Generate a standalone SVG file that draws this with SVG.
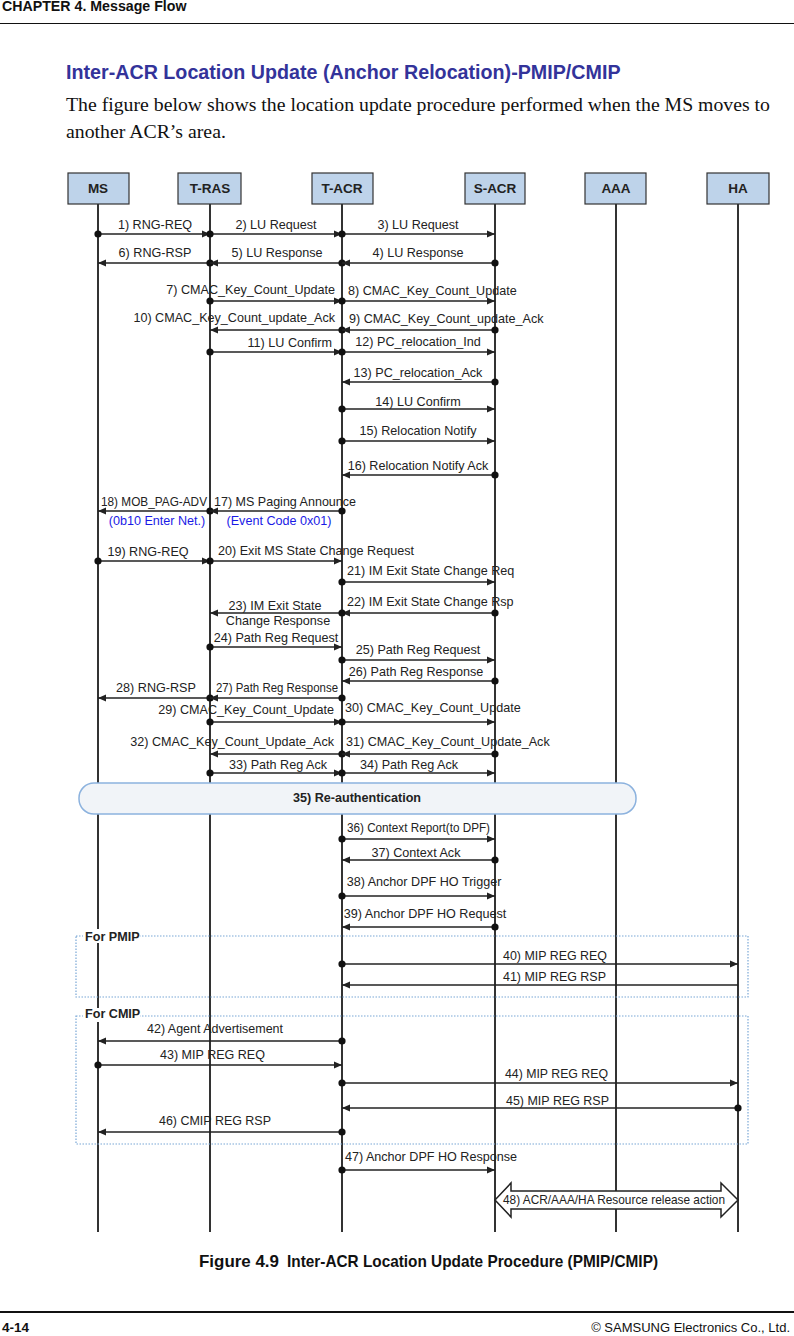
<svg xmlns="http://www.w3.org/2000/svg" width="794" height="1336" viewBox="0 0 794 1336">
<style>
.t{font-family:"Liberation Sans",Arial,sans-serif;font-size:12.6px;fill:#222}
.m{text-anchor:middle}
.e{text-anchor:end}
.b{font-weight:bold}
.blue{fill:#1a1ae6}
.ll{stroke:#333;stroke-width:2}
.hb{fill:#bed3ea;stroke:#333;stroke-width:1.2}
.a{stroke:#222;stroke-width:1.3;fill:none;marker-start:url(#dot);marker-end:url(#arr)}
.n{stroke:#222;stroke-width:1.3;fill:none;marker-end:url(#arr)}
.box{fill:none;stroke:#7aa7d6;stroke-width:1.2;stroke-dasharray:1.5 1.5}
</style>
<defs>
<marker id="arr" markerUnits="userSpaceOnUse" markerWidth="9" markerHeight="8" refX="8" refY="4" orient="auto"><path d="M0,0.5 L8,4 L0,7.5 z" fill="#222"/></marker>
<marker id="dot" markerUnits="userSpaceOnUse" markerWidth="9" markerHeight="9" refX="4.5" refY="4.5"><circle cx="4.5" cy="4.5" r="3.6" fill="#111"/></marker>
</defs>
<rect width="794" height="1336" fill="#fff"/>
<g id="page">
<text x="2" y="11" class="t b" style="font-size:14.2px;fill:#111">CHAPTER 4. Message Flow</text>
<line x1="0" y1="23.5" x2="794" y2="23.5" stroke="#111" stroke-width="1.2"/>
<text x="66" y="79" style="font-family:'Liberation Sans',Arial,sans-serif;font-size:19.7px;font-weight:bold;fill:#33339a">Inter-ACR Location Update (Anchor Relocation)-PMIP/CMIP</text>
<text x="66" y="111" textLength="704" lengthAdjust="spacingAndGlyphs" style="font-family:'Liberation Serif','Times New Roman',serif;font-size:19.8px;fill:#111">The figure below shows the location update procedure performed when the MS moves to</text>
<text x="66" y="138" style="font-family:'Liberation Serif','Times New Roman',serif;font-size:19.8px;fill:#111">another ACR’s area.</text>
<text x="199" y="1267" class="t b" textLength="80" lengthAdjust="spacingAndGlyphs" style="font-size:17px;fill:#111">Figure 4.9</text>
<text x="287" y="1267" class="t b" textLength="371" lengthAdjust="spacingAndGlyphs" style="font-size:17px;fill:#111">Inter-ACR Location Update Procedure (PMIP/CMIP)</text>
<line x1="0" y1="1312" x2="794" y2="1312" stroke="#111" stroke-width="2"/>
<text x="2" y="1332" class="t b" style="font-size:13.5px;fill:#111">4-14</text>
<text x="790" y="1332" class="t e" style="font-size:13px;fill:#111">© SAMSUNG Electronics Co., Ltd.</text>
</g>
<g id="lifelines">
<line class="ll" x1="98" y1="204" x2="98" y2="1232"/>
<line class="ll" x1="210" y1="204" x2="210" y2="1232"/>
<line class="ll" x1="342" y1="204" x2="342" y2="1232"/>
<line class="ll" x1="495" y1="204" x2="495" y2="1232"/>
<line class="ll" x1="616" y1="204" x2="616" y2="1232"/>
<line class="ll" x1="738" y1="204" x2="738" y2="1232"/>
</g>
<g id="node-MS"><rect class="hb" x="68" y="173" width="61" height="31"/><text x="98" y="193" class="t m b" style="font-size:13.5px">MS</text></g>
<g id="node-TRAS"><rect class="hb" x="178" y="173" width="63" height="31"/><text x="210" y="193" class="t m b" style="font-size:13.5px">T-RAS</text></g>
<g id="node-TACR"><rect class="hb" x="312" y="173" width="61" height="31"/><text x="342" y="193" class="t m b" style="font-size:13.5px">T-ACR</text></g>
<g id="node-SACR"><rect class="hb" x="465" y="173" width="60" height="31"/><text x="495" y="193" class="t m b" style="font-size:13.5px">S-ACR</text></g>
<g id="node-AAA"><rect class="hb" x="585" y="173" width="61" height="31"/><text x="616" y="193" class="t m b" style="font-size:13.5px">AAA</text></g>
<g id="node-HA"><rect class="hb" x="707" y="173" width="62" height="31"/><text x="738" y="193" class="t m b" style="font-size:13.5px">HA</text></g>
<g id="frames">
<rect class="box" x="76" y="936" width="672" height="61"/>
<rect x="83" y="929" width="57" height="14" fill="#fff"/>
<text x="85" y="941" class="t b">For PMIP</text>
<rect class="box" x="76" y="1016" width="672" height="128"/>
<rect x="83" y="1008" width="57" height="14" fill="#fff"/>
<text x="85" y="1018" class="t b">For CMIP</text>
</g>
<g id="connectors">
<line class="a" x1="98" y1="234" x2="210" y2="234"/>
<line class="a" x1="210" y1="234" x2="342" y2="234"/>
<line class="a" x1="342" y1="234" x2="495" y2="234"/>
<line class="a" x1="210" y1="263" x2="98" y2="263"/>
<line class="a" x1="342" y1="263" x2="210" y2="263"/>
<line class="a" x1="495" y1="263" x2="342" y2="263"/>
<line class="a" x1="210" y1="301" x2="342" y2="301"/>
<line class="a" x1="342" y1="301" x2="495" y2="301"/>
<line class="a" x1="342" y1="330" x2="210" y2="330"/>
<line class="a" x1="495" y1="330" x2="342" y2="330"/>
<line class="a" x1="210" y1="352" x2="342" y2="352"/>
<line class="a" x1="342" y1="352" x2="495" y2="352"/>
<line class="a" x1="495" y1="382" x2="342" y2="382"/>
<line class="a" x1="342" y1="409" x2="495" y2="409"/>
<line class="a" x1="342" y1="441" x2="495" y2="441"/>
<line class="a" x1="495" y1="475" x2="342" y2="475"/>
<line class="a" x1="210" y1="511" x2="98" y2="511"/>
<line class="a" x1="342" y1="511" x2="210" y2="511"/>
<line class="a" x1="98" y1="561" x2="210" y2="561"/>
<line class="a" x1="210" y1="561" x2="342" y2="561"/>
<line class="a" x1="342" y1="582" x2="495" y2="582"/>
<line class="a" x1="495" y1="613" x2="342" y2="613"/>
<line class="a" x1="342" y1="613" x2="210" y2="613"/>
<line class="a" x1="210" y1="647" x2="342" y2="647"/>
<line class="a" x1="342" y1="660" x2="495" y2="660"/>
<line class="a" x1="495" y1="681" x2="342" y2="681"/>
<line class="a" x1="210" y1="698" x2="98" y2="698"/>
<line class="a" x1="342" y1="698" x2="210" y2="698"/>
<line class="a" x1="210" y1="722" x2="342" y2="722"/>
<line class="a" x1="342" y1="722" x2="495" y2="722"/>
<line class="a" x1="342" y1="754" x2="210" y2="754"/>
<line class="a" x1="495" y1="754" x2="342" y2="754"/>
<line class="a" x1="210" y1="773" x2="342" y2="773"/>
<line class="a" x1="342" y1="773" x2="495" y2="773"/>
<line class="a" x1="342" y1="839" x2="495" y2="839"/>
<line class="a" x1="495" y1="860" x2="342" y2="860"/>
<line class="a" x1="342" y1="896" x2="495" y2="896"/>
<line class="a" x1="495" y1="927" x2="342" y2="927"/>
<line class="a" x1="342" y1="964" x2="738" y2="964"/>
<line class="n" x1="738" y1="985" x2="342" y2="985"/>
<line class="a" x1="342" y1="1041" x2="98" y2="1041"/>
<line class="a" x1="98" y1="1065" x2="342" y2="1065"/>
<line class="a" x1="342" y1="1083" x2="738" y2="1083"/>
<line class="a" x1="738" y1="1108" x2="342" y2="1108"/>
<line class="a" x1="342" y1="1132" x2="98" y2="1132"/>
<line class="a" x1="342" y1="1170" x2="495" y2="1170"/>
</g>
<g id="reauth">
<rect x="79" y="783" width="557" height="31" rx="15" fill="#f1f4f8" stroke="#8cb2de" stroke-width="1.5"/>
<text x="357" y="802" class="t m b">35) Re-authentication</text>
</g>
<g id="release">
<polygon points="495,1200 511,1183 511,1191 721,1191 721,1183 738,1200 721,1217 721,1209 511,1209 511,1217" fill="#fff" stroke="#222" stroke-width="1.5"/>
<text x="503" y="1204" class="t" textLength="222" lengthAdjust="spacingAndGlyphs">48) ACR/AAA/HA Resource release action</text>
</g>
<g id="labels">
<text x="155" y="229" class="t m">1) RNG-REQ</text>
<text x="276" y="229" class="t m">2) LU Request</text>
<text x="418" y="229" class="t m">3) LU Request</text>
<text x="155" y="257" class="t m">6) RNG-RSP</text>
<text x="277" y="257" class="t m">5) LU Response</text>
<text x="418" y="257" class="t m">4) LU Response</text>
<text x="335" y="294" class="t e">7) CMAC_Key_Count_Update</text>
<text x="348" y="295" class="t">8) CMAC_Key_Count_Update</text>
<text x="335" y="322" class="t e">10) CMAC_Key_Count_update_Ack</text>
<text x="349" y="323" class="t">9) CMAC_Key_Count_update_Ack</text>
<text x="332" y="347" class="t e">11) LU Confirm</text>
<text x="418" y="346" class="t m">12) PC_relocation_Ind</text>
<text x="418" y="377" class="t m">13) PC_relocation_Ack</text>
<text x="418" y="406" class="t m">14) LU Confirm</text>
<text x="418" y="435" class="t m">15) Relocation Notify</text>
<text x="418" y="470" class="t m">16) Relocation Notify Ack</text>
<text x="101" y="506" class="t" textLength="106" lengthAdjust="spacingAndGlyphs">18) MOB_PAG-ADV</text>
<text x="214" y="506" class="t" textLength="142" lengthAdjust="spacingAndGlyphs">17) MS Paging Announce</text>
<text x="157" y="525" class="t m blue">(0b10 Enter Net.)</text>
<text x="279" y="525" class="t m blue">(Event Code 0x01)</text>
<text x="148" y="556" class="t m">19) RNG-REQ</text>
<text x="218" y="555" class="t">20) Exit MS State Change Request</text>
<text x="347" y="575" class="t">21) IM Exit State Change Req</text>
<text x="347" y="606" class="t">22) IM Exit State Change Rsp</text>
<text x="275" y="610" class="t m">23) IM Exit State</text>
<text x="278" y="625" class="t m">Change Response</text>
<text x="276" y="642" class="t m">24) Path Reg Request</text>
<text x="418" y="654" class="t m">25) Path Reg Request</text>
<text x="416" y="676" class="t m">26) Path Reg Response</text>
<text x="156" y="692" class="t m">28) RNG-RSP</text>
<text x="216" y="692" class="t" textLength="122" lengthAdjust="spacingAndGlyphs">27) Path Reg Response</text>
<text x="334" y="714" class="t e">29) CMAC_Key_Count_Update</text>
<text x="345" y="712" class="t">30) CMAC_Key_Count_Update</text>
<text x="334" y="746" class="t e">32) CMAC_Key_Count_Update_Ack</text>
<text x="346" y="746" class="t">31) CMAC_Key_Count_Update_Ack</text>
<text x="278" y="769" class="t m">33) Path Reg Ack</text>
<text x="409" y="769" class="t m">34) Path Reg Ack</text>
<text x="347" y="832" class="t" textLength="143" lengthAdjust="spacingAndGlyphs">36) Context Report(to DPF)</text>
<text x="416" y="857" class="t m">37) Context Ack</text>
<text x="424" y="886" class="t m">38) Anchor DPF HO Trigger</text>
<text x="425" y="918" class="t m">39) Anchor DPF HO Request</text>
<text x="503" y="960" class="t" textLength="104" lengthAdjust="spacingAndGlyphs">40) MIP REG REQ</text>
<text x="503" y="981" class="t" textLength="103" lengthAdjust="spacingAndGlyphs">41) MIP REG RSP</text>
<text x="147" y="1033" class="t" textLength="136" lengthAdjust="spacingAndGlyphs">42) Agent Advertisement</text>
<text x="160" y="1059" class="t" textLength="105" lengthAdjust="spacingAndGlyphs">43) MIP REG REQ</text>
<text x="505" y="1078" class="t" textLength="103" lengthAdjust="spacingAndGlyphs">44) MIP REG REQ</text>
<text x="506" y="1105" class="t" textLength="103" lengthAdjust="spacingAndGlyphs">45) MIP REG RSP</text>
<text x="159" y="1125" class="t" textLength="112" lengthAdjust="spacingAndGlyphs">46) CMIP REG RSP</text>
<text x="431" y="1161" class="t m">47) Anchor DPF HO Response</text>
</g>
</svg>
